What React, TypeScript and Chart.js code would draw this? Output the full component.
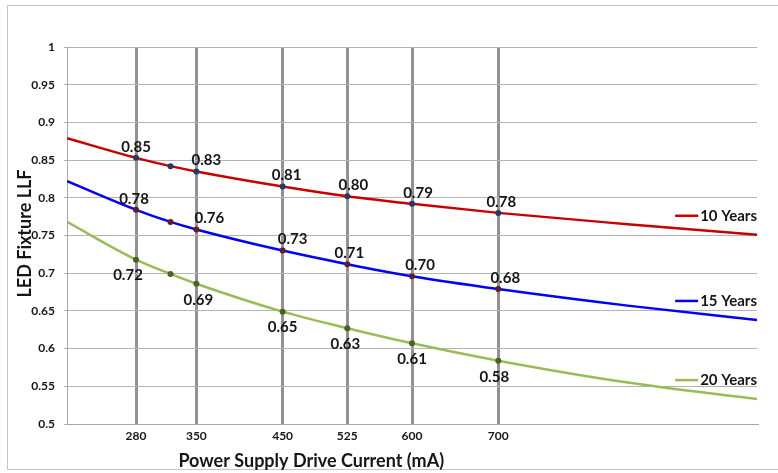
import { useEffect, useRef } from "react";
import { Chart, registerables } from "chart.js";

Chart.register(...registerables);

// ---- data ----
const currents = [200, 280, 320, 350, 450, 525, 600, 700, 850, 1000];
const tenYears = [0.879, 0.853, 0.842, 0.835, 0.815, 0.802, 0.792, 0.78, 0.765, 0.751];
const fifteenYears = [0.822, 0.784, 0.768, 0.758, 0.73, 0.712, 0.696, 0.679, 0.657, 0.638];
const twentyYears = [0.768, 0.718, 0.699, 0.686, 0.649, 0.627, 0.607, 0.584, 0.555, 0.533];
const markerCurrents = [280, 320, 350, 450, 525, 600, 700];
const tickCurrents = [280, 350, 450, 525, 600, 700];
const tenYearLabels = ["0.85", "0.83", "0.81", "0.80", "0.79", "0.78"];
const fifteenYearLabels = ["0.78", "0.76", "0.73", "0.71", "0.70", "0.68"];
const twentyYearLabels = ["0.72", "0.69", "0.65", "0.63", "0.61", "0.58"];
const seriesNames = ["10 Years", "15 Years", "20 Years"];

// ---- styling ----
const FONT = 'Lato, "Open Sans", sans-serif';
const TEXT = "#161616";
const lineColors = ["#c80000", "#0000ff", "#9bbb59"];
const markerColors = ["#243a5e", "#5e1f2a", "#4a6320"];
const labelDx = [
  [0, 10, 4, 6, 6, 3],
  [-2, 13, 10, 2, 8, 7],
  [-8, 2, 0, -2, 0, -4],
];
const labelAbove = [true, true, false];

const overlayPlugin = {
  id: "overlay",
  afterDatasetsDraw(chart: any) {
    const { ctx, chartArea, scales } = chart;
    const xs = scales.x;
    const ys = scales.y;
    const labelSets = [tenYearLabels, fifteenYearLabels, twentyYearLabels];
    const series = [tenYears, fifteenYears, twentyYears];
    ctx.save();
    ctx.fillStyle = TEXT;
    ctx.textAlign = "center";
    ctx.textBaseline = "middle";
    ctx.font = `bold 15px ${FONT}`;
    series.forEach((vals, s) => {
      tickCurrents.forEach((c, i) => {
        const idx = currents.indexOf(c);
        const px = xs.getPixelForValue(c) + labelDx[s][i];
        const py = ys.getPixelForValue(vals[idx]) + (labelAbove[s] ? -11 : 16);
        ctx.fillText(labelSets[s][i], px, py);
      });
    });
    // series names near curve ends
    ctx.font = `bold 15px ${FONT}`;
    ctx.textAlign = "right";
    series.forEach((vals, s) => {
      const endY = ys.getPixelForValue(vals[vals.length - 1]) - 19;
      const w = ctx.measureText(seriesNames[s]).width;
      const tx = chartArea.right;
      ctx.fillText(seriesNames[s], tx, endY);
      ctx.strokeStyle = lineColors[s];
      ctx.lineWidth = 2.5;
      ctx.beginPath();
      ctx.moveTo(tx - w - 25, endY);
      ctx.lineTo(tx - w - 2, endY);
      ctx.stroke();
    });
    // axis titles
    ctx.textAlign = "center";
    ctx.font = `bold 18px ${FONT}`;
    ctx.fillText(
      "Power Supply Drive Current (mA)",
      chartArea.left + (chartArea.right - chartArea.left) * 0.354,
      461
    );
    ctx.translate(25, (chartArea.top + chartArea.bottom) / 2 - 2);
    ctx.rotate(-Math.PI / 2);
    ctx.fillText("LED Fixture LLF", 0, 0);
    ctx.restore();
  },
};

export default function App() {
  const ref = useRef<HTMLCanvasElement | null>(null);

  useEffect(() => {
    if (!ref.current) return;
    const series = [tenYears, fifteenYears, twentyYears];
    const chart = new Chart(ref.current, {
      type: "line",
      data: {
        datasets: series.map((vals, s) => ({
          label: seriesNames[s],
          data: currents.map((c, i) => ({ x: c, y: vals[i] })),
          borderColor: lineColors[s],
          borderWidth: 2.5,
          cubicInterpolationMode: "monotone" as const,
          pointRadius: (ctx: any) =>
            markerCurrents.includes(currents[ctx.dataIndex]) ? 3 : 0,
          pointBackgroundColor: markerColors[s],
          pointBorderColor: markerColors[s],
          pointBorderWidth: 0,
          fill: false,
        })),
      },
      options: {
        responsive: false,
        animation: false,
        devicePixelRatio: 1,
        layout: { padding: { left: 0, top: 47, right: 21, bottom: 0 } },
        plugins: {
          legend: { display: false },
          tooltip: { enabled: false },
        },
        scales: {
          x: {
            type: "linear",
            min: 200,
            max: 1000,
            afterBuildTicks: (scale: any) => {
              scale.ticks = tickCurrents.map((v) => ({ value: v }));
            },
            afterFit: (scale: any) => {
              scale.height = 49;
            },
            ticks: {
              color: TEXT,
              font: { family: FONT, size: 12, weight: "bold" },
              padding: 5,
              maxRotation: 0,
              autoSkip: false,
            },
            grid: {
              color: "rgba(110,110,110,0.75)",
              lineWidth: 3,
              tickLength: 0,
            },
            border: { color: "#a6a6a6", width: 1 },
          },
          y: {
            min: 0.5,
            max: 1,
            afterFit: (scale: any) => {
              scale.width = 67;
            },
            ticks: {
              stepSize: 0.05,
              color: TEXT,
              font: { family: FONT, size: 12, weight: "bold" },
              padding: 9,
              callback: (v: any) => String(Number(Number(v).toFixed(2))),
            },
            grid: { color: "#b4b4b4", lineWidth: 1, tickLength: 3 },
            border: { color: "#a6a6a6", width: 1 },
          },
        },
      },
      plugins: [overlayPlugin],
    });
    return () => chart.destroy();
  }, []);

  return (
    <div
      style={{
        position: "fixed",
        left: 0,
        top: 0,
        width: 778,
        height: 473,
        background: "#fff",
        overflow: "hidden",
      }}
    >
      <div
        style={{
          position: "absolute",
          left: 7,
          top: 5,
          width: 780,
          height: 465,
          border: "1.5px solid #c4c4c4",
          boxSizing: "border-box",
        }}
      />
      <canvas
        ref={ref}
        width={778}
        height={473}
        style={{ position: "absolute", left: 0, top: 0, width: 778, height: 473 }}
      />
    </div>
  );
}
